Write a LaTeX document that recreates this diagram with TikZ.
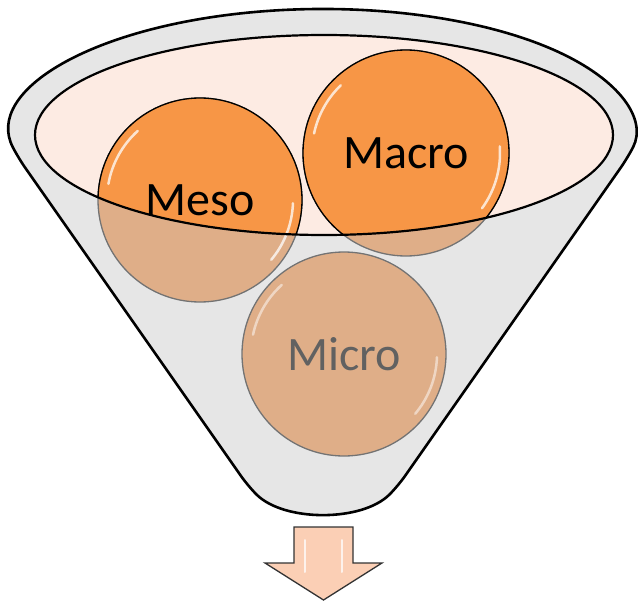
\documentclass[tikz,border=0pt]{standalone}
\usepackage{fontspec}
\setmainfont{Carlito}
\usepackage{tikz}
\usepackage{xcolor}
\definecolor{ballorange}{HTML}{F79646}
\definecolor{ballmuted}{HTML}{DFAE88}
\definecolor{rimpink}{HTML}{FDEBE3}
\definecolor{conegray}{HTML}{E6E6E6}
\definecolor{arrowpeach}{HTML}{FBCFB5}

\begin{document}
\begin{tikzpicture}[x=1pt, y=-1pt,
    funnel/.style={draw=black, line width=2.6pt, fill=conegray, rounded corners=12pt},
    rim/.style={draw=black, line width=2.2pt},
    ballback/.style={fill=ballmuted, draw=black!55, line width=1.3pt},
    ballfront/.style={fill=ballorange, draw=black, line width=1.3pt},
    balltext/.style={inner sep=0pt, font=\fontsize{48}{56}\selectfont},
    shine/.style={white, line width=2.5pt, line cap=round, opacity=0.75},
    outarrow/.style={draw=black!80, line width=1.3pt, fill=arrowpeach, line join=miter}
]
    \useasboundingbox (0,0) rectangle (638,602);

    % Ball positions
    \coordinate (mesoc) at (200,200);
    \coordinate (macroc) at (406,153);
    \coordinate (microc) at (344,354);

    % Funnel body
    \path[funnel] (18.3,157.9) arc[start angle=168.4, end angle=371.6, x radius=311, y radius=124]
        -- (398,486) .. controls (362,522) and (284,522) .. (248,486) -- cycle;

    % Funnel opening
    \path[fill=rimpink] (324,135) ellipse[x radius=289, y radius=100];

    % Balls, seen through the funnel wall
    \path[ballback] (mesoc) circle (102);
    \path[ballback] (macroc) circle (103);
    \path[ballback] (microc) circle (102);

    % Balls, seen through the opening
    \begin{scope}
        \clip (324,135) ellipse[x radius=289, y radius=100];
        \path[ballfront] (mesoc) circle (102);
        \path[ballfront] (macroc) circle (103);
    \end{scope}

    % Highlights
    \draw[shine] ([shift={(190:93)}]mesoc) arc[start angle=190, end angle=228, radius=93];
    \draw[shine] ([shift={(2:93)}]mesoc) arc[start angle=2, end angle=40, radius=93];
    \draw[shine] ([shift={(192:94)}]macroc) arc[start angle=192, end angle=226, radius=94];
    \draw[shine] ([shift={(-4:94)}]macroc) arc[start angle=-4, end angle=36, radius=94];
    \draw[shine, opacity=0.5] ([shift={(192:93)}]microc) arc[start angle=192, end angle=228, radius=93];
    \draw[shine, opacity=0.5] ([shift={(2:93)}]microc) arc[start angle=2, end angle=40, radius=93];

    % Rim outline
    \path[rim] (324,135) ellipse[x radius=289, y radius=100];

    % Labels
    \node[balltext] (meso) at (mesoc) {Meso};
    \node[balltext] (macro) at (macroc) {Macro};
    \node[balltext, text=black!62] (micro) at (microc) {Micro};

    % Output arrow
    \path[outarrow] (294,527) -- (353,527) -- (353,563) -- (382,563) -- (323.5,600)
        -- (265,563) -- (294,563) -- cycle;
    \draw[shine, line width=2pt] (305,540) -- (305,572);
    \draw[shine, line width=2pt] (342,540) -- (342,572);

\end{tikzpicture}
\end{document}
